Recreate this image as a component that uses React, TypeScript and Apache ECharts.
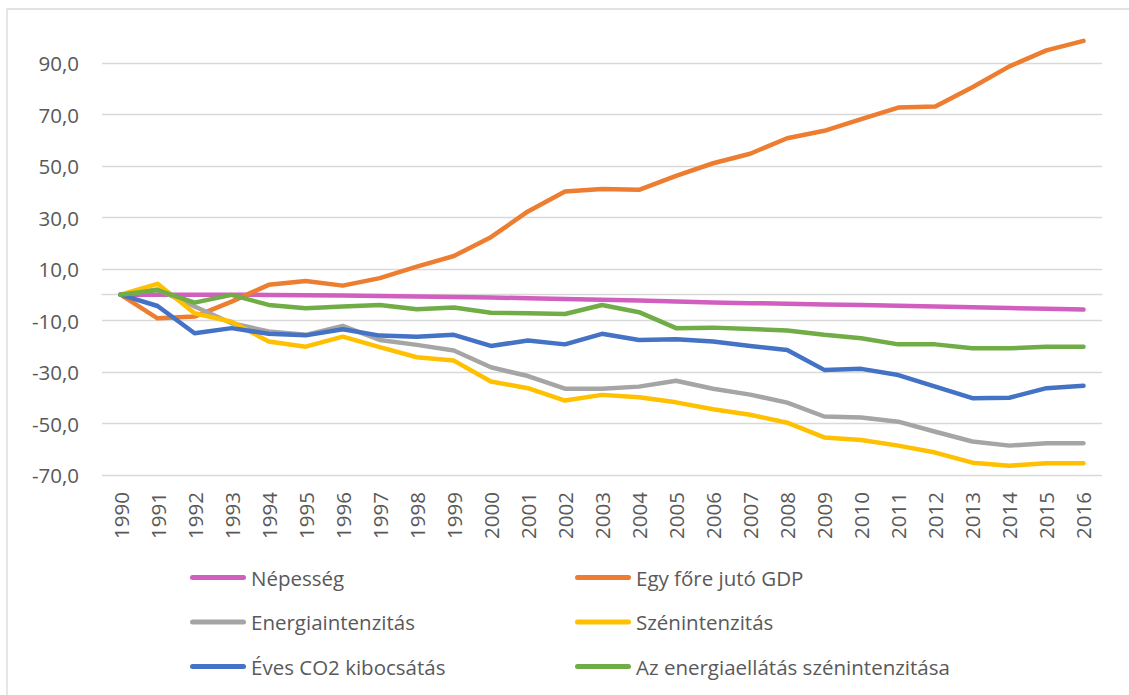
import { useEffect, useRef } from 'react';
import * as echarts from 'echarts';

const years = ['1990','1991','1992','1993','1994','1995','1996','1997','1998','1999','2000','2001','2002','2003','2004','2005','2006','2007','2008','2009','2010','2011','2012','2013','2014','2015','2016'];

const nepesseg = [0, 0, 0, 0, -0.1, -0.2, -0.3, -0.5, -0.7, -0.9, -1.1, -1.4, -1.7, -2.0, -2.3, -2.7, -3.0, -3.3, -3.5, -3.8, -4.0, -4.3, -4.6, -4.9, -5.2, -5.5, -5.8];
const gdp = [0, -9.2, -8.5, -2.7, 3.8, 5.3, 3.5, 6.4, 10.9, 15.0, 22.3, 32.3, 40.0, 41.0, 40.7, 46.1, 51.0, 54.7, 60.7, 63.6, 68.1, 72.6, 73.0, 80.5, 88.6, 94.8, 98.5];
const energiaint = [0, 2.0, -4.6, -11.1, -14.3, -15.6, -12.1, -17.6, -19.5, -21.7, -28.2, -31.6, -36.5, -36.5, -35.7, -33.4, -36.5, -38.8, -41.9, -47.3, -47.7, -49.3, -53.2, -57.0, -58.6, -57.7, -57.7];
const szenint = [0, 4.2, -7.2, -10.5, -18.2, -20.2, -16.3, -20.4, -24.3, -25.6, -33.7, -36.3, -41.1, -38.9, -39.8, -41.8, -44.5, -46.6, -49.7, -55.4, -56.4, -58.6, -61.3, -65.2, -66.4, -65.4, -65.4];
const co2 = [0, -4.4, -15.0, -13.0, -15.2, -15.8, -13.4, -15.9, -16.3, -15.6, -19.9, -17.8, -19.3, -15.2, -17.6, -17.3, -18.2, -19.9, -21.5, -29.2, -28.8, -31.2, -35.7, -40.2, -40.0, -36.3, -35.4];
const energiaellatas = [0, 1.8, -3.1, -0.1, -4.0, -5.3, -4.6, -4.0, -5.7, -5.0, -7.0, -7.2, -7.5, -4.0, -6.8, -13.0, -12.8, -13.3, -13.9, -15.6, -16.9, -19.3, -19.3, -20.8, -20.8, -20.2, -20.2];

const seriesNames = ['Népesség', 'Egy főre jutó GDP', 'Energiaintenzitás', 'Szénintenzitás', 'Éves CO2 kibocsátás', 'Az energiaellátás szénintenzitása'];
const seriesData = [nepesseg, gdp, energiaint, szenint, co2, energiaellatas];
const seriesColors = ['#D05FC0', '#ED7D31', '#A5A5A5', '#FFC000', '#4472C4', '#70AD47'];

const legendLeftNames = [seriesNames[0], seriesNames[2], seriesNames[4]];
const legendRightNames = [seriesNames[1], seriesNames[3], seriesNames[5]];

const FONT = '"Open Sans", sans-serif';
const TEXT = '#595959';
const GRID = '#D9D9D9';
const LEGEND_ICON = 'path://M2.5,0 L53.5,0 A2.5,2.5 0 0 1 53.5,5 L2.5,5 A2.5,2.5 0 0 1 2.5,0 Z';

export default function App() {
  const ref = useRef<HTMLDivElement>(null);
  useEffect(() => {
    const chart = echarts.init(ref.current!, null, { renderer: 'svg' });
    const textStyle = { color: TEXT, fontSize: 20.5, fontFamily: FONT };
    const legendBase = {
      orient: 'vertical',
      top: 567,
      padding: 0,
      icon: LEGEND_ICON,
      itemWidth: 56,
      itemHeight: 5,
      itemGap: 23.5,
      selectedMode: false,
      textStyle: { ...textStyle, lineHeight: 20 },
    };
    chart.setOption({
      animation: false,
      backgroundColor: '#ffffff',
      textStyle: { fontFamily: FONT },
      graphic: [
        {
          type: 'rect',
          shape: { x: 7, y: 9, width: 1300, height: 900 },
          style: { fill: 'none', stroke: GRID, lineWidth: 1.3 },
          silent: true,
        },
      ],
      grid: [
        { left: 102, right: 27, top: 63, bottom: 220 },
        { left: 102, right: 27, top: 37, bottom: 220 },
      ],
      xAxis: [
        {
          gridIndex: 0,
          type: 'category',
          data: years,
          boundaryGap: true,
          axisLine: { show: false },
          axisTick: { show: false },
          axisLabel: { ...textStyle, rotate: 90, margin: 17, interval: 0 },
        },
        {
          gridIndex: 1,
          type: 'category',
          data: years,
          boundaryGap: true,
          axisLine: { show: true, onZero: true, lineStyle: { color: GRID, width: 1.3 } },
          axisTick: { show: false },
          axisLabel: { show: false },
        },
      ],
      yAxis: [
        {
          gridIndex: 0,
          type: 'value',
          min: -70,
          max: 90,
          interval: 20,
          axisLine: { show: false },
          axisTick: { show: false },
          axisLabel: {
            ...textStyle,
            margin: 23,
            formatter: (v: number) => v.toFixed(1).replace('.', ','),
          },
          splitLine: { show: true, lineStyle: { color: GRID, width: 1.3 } },
        },
        {
          gridIndex: 1,
          type: 'value',
          min: -70,
          max: 100,
          axisLine: { show: false },
          axisTick: { show: false },
          axisLabel: { show: false },
          splitLine: { show: false },
        },
      ],
      legend: [
        { ...legendBase, left: 190, data: legendLeftNames },
        { ...legendBase, left: 575, data: legendRightNames },
      ],
      series: seriesNames.map((name, i) => ({
        name,
        type: 'line',
        xAxisIndex: 1,
        yAxisIndex: 1,
        data: seriesData[i],
        symbol: 'none',
        showSymbol: false,
        color: seriesColors[i],
        lineStyle: { width: 4.5, color: seriesColors[i], cap: 'round', join: 'round' },
        itemStyle: { color: seriesColors[i] },
        z: 2 + i,
      })),
    });
    return () => chart.dispose();
  }, []);
  return (
    <div
      ref={ref}
      style={{ position: 'fixed', left: 0, top: 0, width: 1129, height: 695, background: '#ffffff' }}
    />
  );
}
